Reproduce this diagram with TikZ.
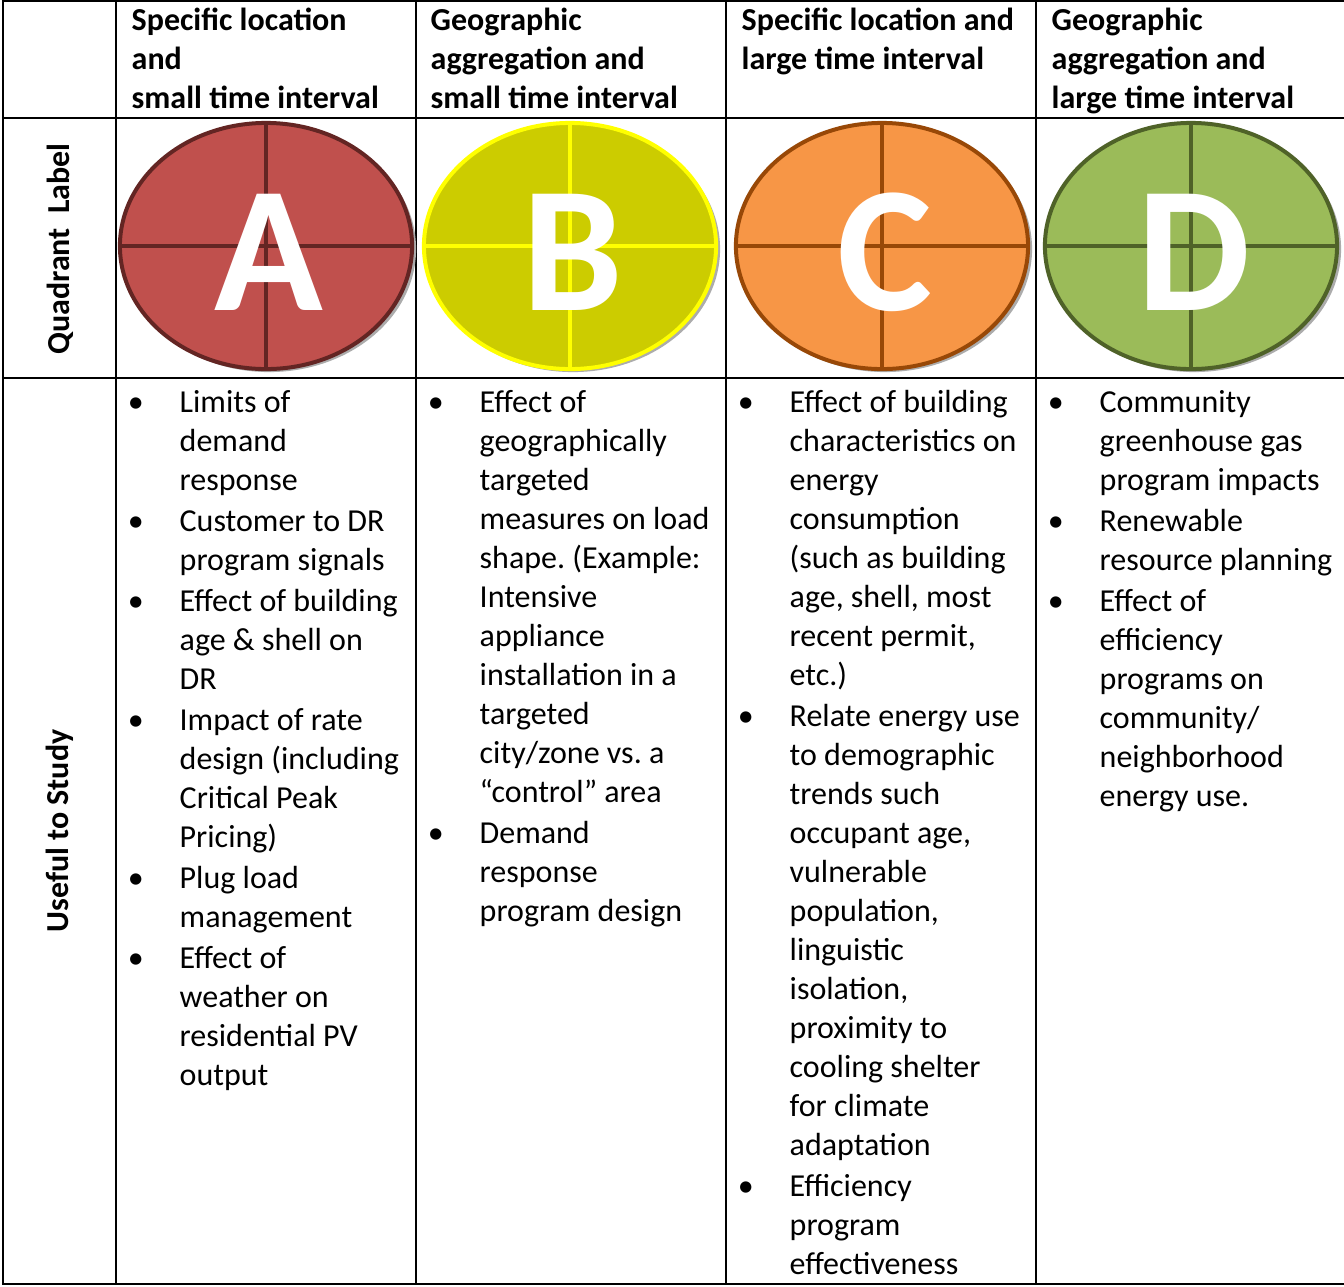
\documentclass[tikz,border=0pt]{standalone}
\usepackage{fontspec}
\setmainfont{Carlito}
\usetikzlibrary{positioning}

\newlength\pxu \setlength\pxu{0.01cm}
\newcommand{\headfont}{\fontsize{9.1pt}{11.1pt}\selectfont\bfseries}
\newcommand{\bodyfont}{\fontsize{9.1pt}{11.1pt}\selectfont\frenchspacing}
\newcommand{\bul}{\llap{\textbullet\hspace{36\pxu}}}
\newcommand{\lines}[1]{\begin{tabular}[t]{@{}l@{}}#1\end{tabular}}

\definecolor{fillA}{HTML}{C0504D} \definecolor{lineA}{HTML}{632523}
\definecolor{fillB}{HTML}{CCCC00} \definecolor{lineB}{HTML}{FFFF00}
\definecolor{fillC}{HTML}{F79646} \definecolor{lineC}{HTML}{984807}
\definecolor{fillD}{HTML}{9BBB59} \definecolor{lineD}{HTML}{4F6228}

\begin{document}
\begin{tikzpicture}[x=0.01cm, y=-0.01cm]
  \tikzset{grid/.style={line width=2\pxu, black},
    header/.style={anchor=base west, inner sep=0pt, font=\headfont},
    sidelabel/.style={rotate=90, inner sep=0pt, font=\headfont},
    uselist/.style={anchor=base west, inner sep=0pt, font=\bodyfont},
    letter/.style={anchor=base, inner sep=0pt, text=white,
      font=\fontsize{51pt}{51pt}\selectfont\bfseries}
  }

  \fill[white] (0,0) rectangle (1344,1287);
  \useasboundingbox (0,0) rectangle (1344,1287);

  % table rules
  \foreach \y in {1,118,378,1284}
    \draw[grid] (2,\y) -- (1344,\y);
  \foreach \x in {3,116,416,726,1036}
    \draw[grid] (\x,1) -- (\x,1284);

  % header row
  \node[header] (hA) at (131,30) {\lines{Specific location\\and\\small time interval}};
  \node[header] (hB) at (430,30) {\lines{Geographic\\aggregation and\\small time interval}};
  \node[header] (hC) at (741,30) {\lines{Specific location and\\large time interval}};
  \node[header] (hD) at (1051,30) {\lines{Geographic\\aggregation and\\large time interval}};

  \node[sidelabel] (quadlabel) at (60,249) {Quadrant\ \ Label};
  \node[sidelabel] (uselabel) at (60,831) {Useful to Study};

  % quadrant ellipses
  \foreach \cx/\q in {266/A,570/B,882/C,1191/D} {
    \fill[gray!65] (\cx+3,249) ellipse (1.47cm and 1.23cm);
    \draw[fill=fill\q, draw=line\q, line width=4\pxu] (\cx,246) ellipse (1.46cm and 1.23cm);
    \draw[line\q, line width=4\pxu] (\cx,123) -- (\cx,369) (\cx-146,246) -- (\cx+146,246);
    \node[letter] (q\q) at (\cx+3,310) {\q};
  }

  % useful to study
  \node[uselist] (uA) at (179,412) {\lines{\bul Limits of\\demand\\response\\[2\pxu]
    \bul Customer to DR\\program signals\\[2\pxu]
    \bul Effect of building\\age \& shell on\\DR\\[2\pxu]
    \bul Impact of rate\\design (including\\Critical Peak\\Pricing)\\[2\pxu]
    \bul Plug load\\management\\[2\pxu]
    \bul Effect of\\weather on\\residential PV\\output}};
  \node[uselist] (uB) at (479,412) {\lines{\bul Effect of\\geographically\\targeted\\measures on load\\shape. (Example:\\Intensive\\appliance\\installation in a\\targeted\\city/zone vs. a\\“control” area\\[2\pxu]
    \bul Demand\\response\\program design}};
  \node[uselist] (uC) at (789,412) {\lines{\bul Effect of building\\characteristics on\\energy\\consumption\\(such as building\\age, shell, most\\recent permit,\\etc.)\\[2\pxu]
    \bul Relate energy use\\to demographic\\trends such\\occupant age,\\vulnerable\\population,\\linguistic\\isolation,\\proximity to\\cooling shelter\\for climate\\adaptation\\[2\pxu]
    \bul Efficiency\\program\\effectiveness}};
  \node[uselist] (uD) at (1099,412) {\lines{\bul Community\\greenhouse gas\\program impacts\\[2\pxu]
    \bul Renewable\\resource planning\\[2\pxu]
    \bul Effect of\\efficiency\\programs on\\community/\\neighborhood\\energy use.}};
\end{tikzpicture}
\end{document}
